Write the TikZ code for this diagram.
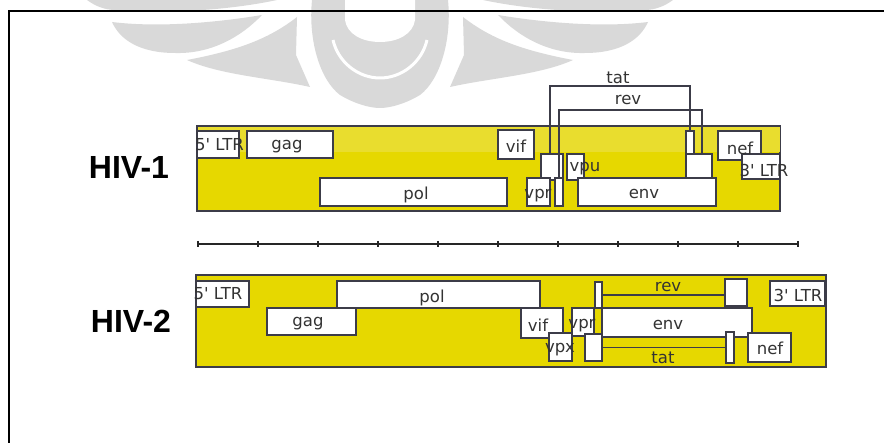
\documentclass[tikz,border=0pt]{standalone}
\usepackage{fontspec}
\usepackage{xcolor}
\usepackage{tikz}
\usetikzlibrary{calc}
\newfontfamily\genefont{DejaVu Sans}
\newfontfamily\namefont{Liberation Sans}
\definecolor{genomeyellow}{HTML}{E6D800}
\definecolor{fadedyellow}{HTML}{E9DD2E}
\definecolor{markgray}{HTML}{D9D9D9}
\definecolor{edgegray}{HTML}{3C3C48}

\begin{document}
\begin{tikzpicture}[
    x=1pt, y=-1pt,
    genome/.style={draw=edgegray, line width=1.3pt, fill=genomeyellow},
    genebox/.style 2 args={rectangle, draw=edgegray, line width=1.3pt, fill=white, anchor=north west, inner sep=0pt, outer sep=0pt, minimum width=#1pt, minimum height=#2pt},
    genetext/.style={font=\genefont\fontsize{16.5}{16.5}\selectfont, text=black!80, inner sep=0pt},
    hivname/.style={font=\namefont\bfseries\fontsize{32}{32}\selectfont, inner sep=0pt},
    link/.style={draw=edgegray, line width=1.3pt},
    tick/.style={draw=black!85, line width=1.3pt}
]
    \useasboundingbox (0,0) rectangle (884,443);

    % Watermark
    \foreach \side in {1,-1} {
        \begin{scope}[shift={(380,0)}, xscale=\side]
            \fill[markgray] (-193,60) .. controls (-140,50) and (-110,38) .. (-83,17) -- (-84,55) -- (-70,87) .. controls (-110,78) and (-160,75) .. (-193,60) -- cycle;
            \fill[markgray] (-268,22) .. controls (-260,40) and (-240,53) .. (-205,53) .. controls (-170,54) and (-140,38) .. (-118,15) .. controls (-160,22) and (-220,28) .. (-268,22) -- cycle;
            \fill[markgray] (-293,0) .. controls (-285,6) and (-275,10) .. (-265,10) .. controls (-210,14) and (-150,10) .. (-103,0) -- cycle;
            \fill[markgray] (-68,0) .. controls (-72,40) and (-60,80) .. (-40,95) .. controls (-25,104) and (-10,108) .. (0,108) -- (0,0) -- cycle;
            \fill[white] (-35,0) -- (-35,20) .. controls (-33,34) and (-18,42) .. (0,42) -- (0,0) -- cycle;
            \draw[white, line width=3pt] (-47,40) .. controls (-42,62) and (-22,78) .. (0,78);
        \end{scope}
    }

    % Page frame
    \draw[black, line width=1.5pt] (9,443) -- (9,11) -- (884,11);

    % Genomes
    \node[genebox={583}{85}, genome] (genomeone) at (197,126) {};
    \fill[fadedyellow] (198,127) rectangle (780,152);
    \node[genebox={630}{92}, genome] (genometwo) at (196,275) {};

    % HIV-1 genes
    \node[genebox={42}{27}] (ltrfiveone) at (197,131) {};
    \node[genebox={86}{27}] (gagone) at (247,131) {};
    \node[genebox={187}{28}] (polone) at (320,178) {};
    \node[genebox={36}{29}] (vifone) at (498,130) {};
    \node[genebox={18}{26}] (tatoneL) at (541,154) {};
    \node[genebox={4}{24}] (revoneT) at (559,154) {};
    \node[genebox={23}{28}] (vprone) at (527,178) {};
    \node[genebox={8}{28}] (revoneL) at (555,178) {};
    \node[genebox={17}{26}] (vpuone) at (567,154) {};
    \node[genebox={8}{23}] (tatoneR) at (686,131) {};
    \node[genebox={26}{24}] (revoneR) at (686,154) {};
    \node[genebox={138}{28}] (envone) at (578,178) {};
    \node[genebox={43}{29}] (nefone) at (718,131) {};
    \node[genebox={38}{25}] (ltrthreeone) at (742,154) {};

    % HIV-1 splice lines
    \coordinate (tattop) at (620,86);
    \coordinate (revtop) at (630,110);
    \draw[link] (tatoneL.north) |- (tattop) -| (tatoneR.north);
    \draw[link] (revoneL.north) |- (revtop) -| ([xshift=3pt]revoneR.north);

    % HIV-2 genes
    \node[genebox={53}{26}] (ltrfivetwo) at (196,281) {};
    \node[genebox={203}{27}] (poltwo) at (337,281) {};
    \node[genebox={89}{27}] (gagtwo) at (267,308) {};
    \node[genebox={42}{30}] (viftwo) at (521,308) {};
    \node[genebox={22}{28}] (vprtwo) at (572,308) {};
    \node[genebox={23}{28}] (vpxtwo) at (549,333) {};
    \node[genebox={150}{29}] (envtwo) at (602,308) {};
    \node[genebox={7}{26}] (revtwoL) at (595,282) {};
    \node[genebox={22}{27}] (revtwoR) at (725,279) {};
    \node[genebox={55}{25}] (ltrthreetwo) at (770,281) {};
    \node[genebox={17}{27}] (tattwoL) at (585,334) {};
    \node[genebox={8}{31}] (tattwoR) at (726,332) {};
    \node[genebox={43}{29}] (neftwo) at (748,333) {};

    % HIV-2 splice lines
    \draw[link] (revtwoL.east) -- (revtwoL.east -| revtwoR.west);
    \draw[link] (tattwoL.east) -- (tattwoR.west);

    % Scale
    \coordinate (scalestart) at (198,244);
    \coordinate (scaleend) at (798,244);
    \draw[tick] (scalestart) -- (scaleend);
    \foreach \i in {0,...,10} {
        \draw[tick] ($(scalestart)+(60*\i,-3)$) -- ($(scalestart)+(60*\i,3)$);
    }

    % Labels
    \node[hivname] (hivone) at (129,167) {HIV-1};
    \node[hivname] (hivtwo) at (131,321) {HIV-2};

    \node[genetext] (ltrfiveonetext) at (219.5,145) {5' LTR};
    \node[genetext] (gagonetext) at (287,147) {gag};
    \node[genetext] (polonetext) at (416,195) {pol};
    \node[genetext] (vifonetext) at (516,146) {vif};
    \node[genetext] (vpronetext) at (538,196) {vpr};
    \node[genetext] (vpuonetext) at (585,169) {vpu};
    \node[genetext] (envonetext) at (644,194) {env};
    \node[genetext] (nefonetext) at (740,148) {nef};
    \node[genetext] (ltrthreeonetext) at (764,170) {3' LTR};
    \node[genetext] (tatonetext) at (618,78) {tat};
    \node[genetext] (revonetext) at (628,100) {rev};

    \node[genetext] (ltrfivetwotext) at (218,294) {5' LTR};
    \node[genetext] (poltwotext) at (432,298) {pol};
    \node[genetext] (gagtwotext) at (308,324) {gag};
    \node[genetext] (viftwotext) at (538,325) {vif};
    \node[genetext] (vprtwotext) at (582,326) {vpr};
    \node[genetext] (vpxtwotext) at (560,350) {vpx};
    \node[genetext] (envtwotext) at (668,325) {env};
    \node[genetext] (revtwotext) at (668,287) {rev};
    \node[genetext] (ltrthreetwotext) at (798,295) {3' LTR};
    \node[genetext] (tattwotext) at (663,358) {tat};
    \node[genetext] (neftwotext) at (770,348) {nef};
\end{tikzpicture}
\end{document}
